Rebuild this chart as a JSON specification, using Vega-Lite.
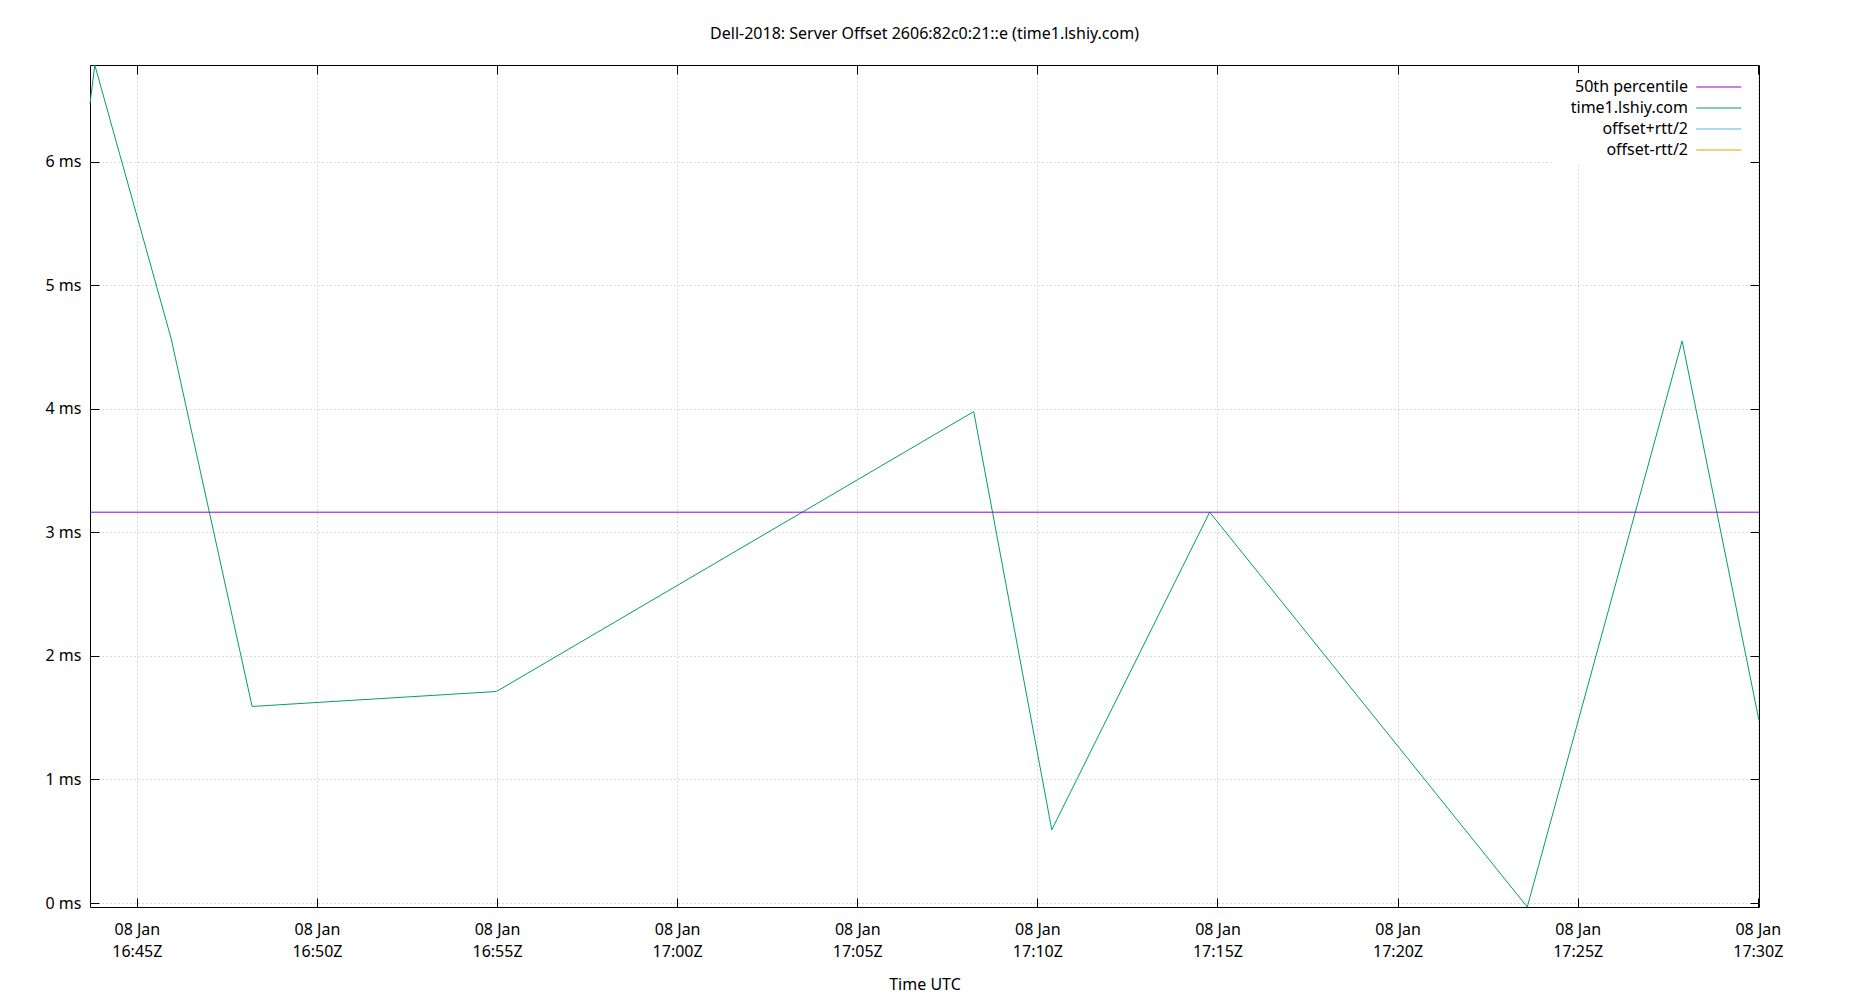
{
  "$schema": "https://vega.github.io/schema/vega-lite/v6.json",
  "width": 1669,
  "height": 842,
  "autosize": {"type": "none"},
  "padding": {"left": 90, "top": 65, "right": 91, "bottom": 93},
  "background": "white",
  "title": {
    "text": "Dell-2018: Server Offset 2606:82c0:21::e (time1.lshiy.com)",
    "font": "Noto Sans",
    "fontSize": 16,
    "fontWeight": "normal",
    "color": "black",
    "anchor": "middle",
    "offset": 20
  },
  "config": {
    "font": "Noto Sans",
    "view": {"stroke": "black", "strokeWidth": 1},
    "axis": {
      "domain": false,
      "labelFont": "Noto Sans",
      "labelFontSize": 16,
      "labelColor": "black",
      "tickColor": "black",
      "tickSize": -9,
      "tickWidth": 1,
      "gridColor": "#bbbbbb",
      "gridDash": [1, 3],
      "gridWidth": 1,
      "titleFont": "Noto Sans",
      "titleFontSize": 16,
      "titleFontWeight": "normal",
      "titleColor": "black"
    }
  },
  "data": {
    "values": [
      {"series": "time1.lshiy.com", "time": "2024-01-08T16:43:42Z", "offset": 6.47},
      {"series": "time1.lshiy.com", "time": "2024-01-08T16:43:50Z", "offset": 6.782},
      {"series": "time1.lshiy.com", "time": "2024-01-08T16:45:57Z", "offset": 4.571},
      {"series": "time1.lshiy.com", "time": "2024-01-08T16:48:12Z", "offset": 1.591},
      {"series": "time1.lshiy.com", "time": "2024-01-08T16:54:59Z", "offset": 1.712},
      {"series": "time1.lshiy.com", "time": "2024-01-08T17:08:14Z", "offset": 3.977},
      {"series": "time1.lshiy.com", "time": "2024-01-08T17:10:24Z", "offset": 0.593},
      {"series": "time1.lshiy.com", "time": "2024-01-08T17:14:47Z", "offset": 3.163},
      {"series": "time1.lshiy.com", "time": "2024-01-08T17:23:36Z", "offset": -0.032},
      {"series": "time1.lshiy.com", "time": "2024-01-08T17:27:54Z", "offset": 4.549},
      {"series": "time1.lshiy.com", "time": "2024-01-08T17:30:02Z", "offset": 1.477},
      {"series": "50th percentile", "time": "2024-01-08T16:43:42Z", "offset": 3.163},
      {"series": "50th percentile", "time": "2024-01-08T17:30:02Z", "offset": 3.163}
    ]
  },
  "layer": [
    {
      "mark": {"type": "line", "strokeWidth": 1},
      "encoding": {
        "x": {
          "field": "time",
          "type": "temporal",
          "scale": {"type": "utc", "nice": false},
          "axis": {
            "orient": "bottom",
            "values": [
              {"year": 2024, "month": 1, "date": 8, "hours": 16, "minutes": 45, "utc": true},
              {"year": 2024, "month": 1, "date": 8, "hours": 16, "minutes": 50, "utc": true},
              {"year": 2024, "month": 1, "date": 8, "hours": 16, "minutes": 55, "utc": true},
              {"year": 2024, "month": 1, "date": 8, "hours": 17, "minutes": 0, "utc": true},
              {"year": 2024, "month": 1, "date": 8, "hours": 17, "minutes": 5, "utc": true},
              {"year": 2024, "month": 1, "date": 8, "hours": 17, "minutes": 10, "utc": true},
              {"year": 2024, "month": 1, "date": 8, "hours": 17, "minutes": 15, "utc": true},
              {"year": 2024, "month": 1, "date": 8, "hours": 17, "minutes": 20, "utc": true},
              {"year": 2024, "month": 1, "date": 8, "hours": 17, "minutes": 25, "utc": true},
              {"year": 2024, "month": 1, "date": 8, "hours": 17, "minutes": 30, "utc": true}
            ],
            "labelExpr": "[utcFormat(datum.value, '%d %b'), utcFormat(datum.value, '%H:%MZ')]",
            "labelLineHeight": 22,
            "labelPadding": 23,
            "labelFlush": false,
            "labelOverlap": false,
            "title": "Time UTC",
            "titlePadding": 17
          }
        },
        "y": {
          "field": "offset",
          "type": "quantitative",
          "scale": {"nice": false, "zero": false},
          "axis": {
            "values": [0, 1, 2, 3, 4, 5, 6],
            "labelExpr": "datum.value + ' ms'",
            "labelPadding": 18,
            "title": null
          }
        },
        "color": {
          "field": "series",
          "type": "nominal",
          "scale": {
            "domain": ["50th percentile", "time1.lshiy.com", "offset+rtt/2", "offset-rtt/2"],
            "range": ["#9400d3", "#009e73", "#56b4e9", "#e69f00"]
          },
          "legend": {
            "orient": "none",
            "legendX": 1463,
            "legendY": 8,
            "title": null,
            "symbolType": "M-3,0H3",
            "symbolSize": 225,
            "symbolStrokeWidth": 1,
            "symbolOffset": 151.75,
            "labelAlign": "right",
            "labelOffset": -38.75,
            "labelFont": "Noto Sans",
            "labelFontSize": 16,
            "labelColor": "black",
            "labelLimit": 400,
            "fillColor": "white",
            "padding": 6,
            "rowPadding": 5
          }
        }
      }
    },
    {
      "mark": {"type": "point", "opacity": 0},
      "encoding": {
        "x": {
          "field": "time",
          "type": "temporal",
          "scale": {"type": "utc", "nice": false},
          "axis": {
            "orient": "top",
            "values": [
              {"year": 2024, "month": 1, "date": 8, "hours": 16, "minutes": 45, "utc": true},
              {"year": 2024, "month": 1, "date": 8, "hours": 16, "minutes": 50, "utc": true},
              {"year": 2024, "month": 1, "date": 8, "hours": 16, "minutes": 55, "utc": true},
              {"year": 2024, "month": 1, "date": 8, "hours": 17, "minutes": 0, "utc": true},
              {"year": 2024, "month": 1, "date": 8, "hours": 17, "minutes": 5, "utc": true},
              {"year": 2024, "month": 1, "date": 8, "hours": 17, "minutes": 10, "utc": true},
              {"year": 2024, "month": 1, "date": 8, "hours": 17, "minutes": 15, "utc": true},
              {"year": 2024, "month": 1, "date": 8, "hours": 17, "minutes": 20, "utc": true},
              {"year": 2024, "month": 1, "date": 8, "hours": 17, "minutes": 25, "utc": true},
              {"year": 2024, "month": 1, "date": 8, "hours": 17, "minutes": 30, "utc": true}
            ],
            "labels": false,
            "grid": false,
            "title": null
          }
        },
        "y": {
          "field": "offset",
          "type": "quantitative",
          "scale": {"nice": false, "zero": false},
          "axis": {
            "orient": "right",
            "values": [0, 1, 2, 3, 4, 5, 6],
            "labels": false,
            "grid": false,
            "title": null
          }
        }
      }
    }
  ],
  "resolve": {"axis": {"x": "independent", "y": "independent"}}
}
